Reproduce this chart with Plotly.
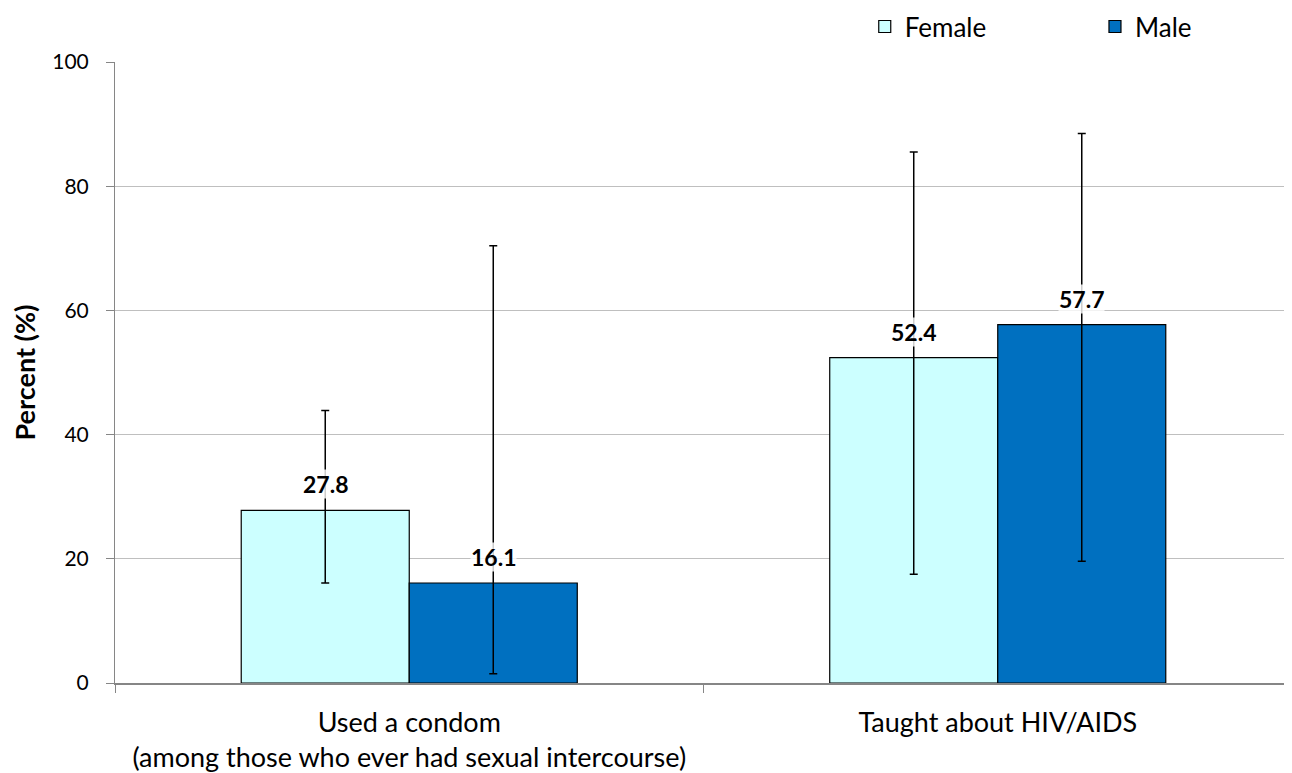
import plotly.graph_objects as go

categories = ["Used a condom<br>(among those who ever had sexual intercourse)", "Taught about HIV/AIDS"]
female = [27.8, 52.4]
male = [16.1, 57.7]
female_hi = [43.9, 85.5]
female_lo = [16.1, 17.5]
male_hi = [70.4, 88.5]
male_lo = [1.5, 19.6]
yticks = [0, 20, 40, 60, 80, 100]

FONT = "Lato"

def errs(v, hi, lo):
    return [h - x for h, x in zip(hi, v)], [x - l for x, l in zip(v, lo)]

fe_p, fe_m = errs(female, female_hi, female_lo)
me_p, me_m = errs(male, male_hi, male_lo)

fig = go.Figure()
fig.add_trace(go.Bar(
    name="Female", x=categories, y=female, legend="legend",
    marker=dict(color="#CCFFFF", line=dict(color="black", width=1.2)),
    error_y=dict(type="data", symmetric=False, array=fe_p, arrayminus=fe_m,
                 color="black", thickness=1.5, width=4),
))
fig.add_trace(go.Bar(
    name="Male", x=categories, y=male, legend="legend2",
    marker=dict(color="#0070C0", line=dict(color="black", width=1.2)),
    error_y=dict(type="data", symmetric=False, array=me_p, arrayminus=me_m,
                 color="black", thickness=1.5, width=4),
))

for i, c in enumerate(categories):
    for v, off in ((female[i], -84), (male[i], 84)):
        fig.add_annotation(
            x=c, y=v, text="<b>%.1f</b>" % v, showarrow=False,
            xref="x", yref="y", yanchor="bottom", yshift=11,
            xshift=off,
            font=dict(family=FONT, size=23, color="black"),
            bgcolor="rgba(255,255,255,0.8)", borderpad=0,
        )

leg_common = dict(orientation="h", yanchor="middle", xanchor="left",
                  font=dict(family=FONT, size=26, color="black"),
                  bgcolor="rgba(0,0,0,0)")
fig.update_layout(
    barmode="group", bargap=0.429, bargroupgap=0,
    width=1284, height=765,
    margin=dict(l=107, r=0, t=54, b=90, autoexpand=False),
    plot_bgcolor="white", paper_bgcolor="white",
    font=dict(family=FONT, size=23, color="black"),
    legend=dict(x=0.637, y=1.057, **leg_common),
    legend2=dict(x=0.8326, y=1.057, **leg_common),
    showlegend=True,
)
fig.update_yaxes(
    range=[0, 100], tickvals=yticks, showgrid=True, gridcolor="#BFBFBF", gridwidth=1,
    showline=True, linecolor="#868686", linewidth=1, ticks="outside", ticklen=8,
    tickcolor="#868686", tickfont=dict(family=FONT, size=21), ticklabelstandoff=13,
    title=dict(text="<b>Percent (%)</b>", font=dict(family=FONT, size=27), standoff=16),
    zeroline=False,
)
fig.update_xaxes(
    showline=True, linecolor="#868686", linewidth=1.5, ticks="outside", ticklen=8,
    tickcolor="#868686", tickson="boundaries", tickfont=dict(family=FONT, size=27),
    ticklabelstandoff=15,
)

fig.write_html("out.html")
